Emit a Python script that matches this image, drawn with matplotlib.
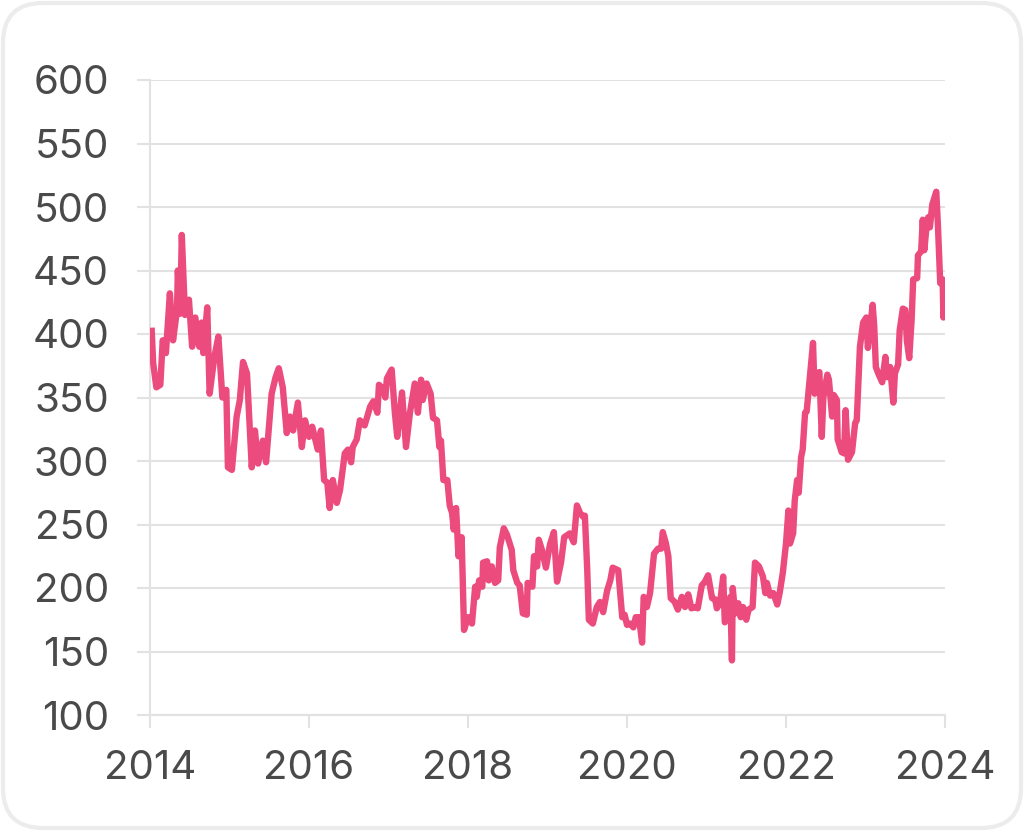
import numpy as np
import matplotlib
matplotlib.use("Agg")
import matplotlib.pyplot as plt
from matplotlib.patches import FancyBboxPatch

# dates as decimal years
years = [
    2014.02, 2014.04, 2014.08, 2014.13, 2014.16, 2014.20, 2014.25, 2014.29, 2014.34, 2014.35,
    2014.38, 2014.40, 2014.44, 2014.49, 2014.53, 2014.57, 2014.62, 2014.65, 2014.67, 2014.72,
    2014.75, 2014.81, 2014.86, 2014.91, 2014.96, 2014.98, 2015.03, 2015.09, 2015.13, 2015.17,
    2015.22, 2015.28, 2015.32, 2015.36, 2015.42, 2015.46, 2015.53, 2015.58, 2015.62, 2015.67,
    2015.72, 2015.76, 2015.80, 2015.86, 2015.91, 2015.95, 2016.00, 2016.04, 2016.09, 2016.11,
    2016.15, 2016.19, 2016.23, 2016.26, 2016.30, 2016.35, 2016.39, 2016.45, 2016.49, 2016.53,
    2016.55, 2016.60, 2016.64, 2016.70, 2016.77, 2016.81, 2016.86, 2016.88, 2016.93, 2016.96,
    2016.98, 2017.04, 2017.08, 2017.11, 2017.17, 2017.22, 2017.27, 2017.33, 2017.37, 2017.41,
    2017.43, 2017.48, 2017.53, 2017.56, 2017.61, 2017.64, 2017.66, 2017.69, 2017.74, 2017.77,
    2017.80, 2017.82, 2017.85, 2017.88, 2017.92, 2017.95, 2018.00, 2018.05, 2018.09, 2018.11,
    2018.14, 2018.18, 2018.19, 2018.24, 2018.26, 2018.30, 2018.34, 2018.38, 2018.40, 2018.45,
    2018.49, 2018.55, 2018.57, 2018.62, 2018.65, 2018.69, 2018.74, 2018.75, 2018.81, 2018.83,
    2018.87, 2018.89, 2018.93, 2018.98, 2019.03, 2019.08, 2019.12, 2019.17, 2019.21, 2019.28,
    2019.33, 2019.37, 2019.41, 2019.45, 2019.47, 2019.50, 2019.52, 2019.57, 2019.62, 2019.66,
    2019.70, 2019.75, 2019.79, 2019.82, 2019.89, 2019.94, 2019.97, 2020.00, 2020.04, 2020.08,
    2020.11, 2020.15, 2020.19, 2020.21, 2020.25, 2020.29, 2020.34, 2020.39, 2020.43, 2020.45,
    2020.49, 2020.52, 2020.55, 2020.60, 2020.64, 2020.69, 2020.73, 2020.77, 2020.81, 2020.86,
    2020.89, 2020.94, 2020.98, 2021.02, 2021.07, 2021.11, 2021.13, 2021.17, 2021.21, 2021.23,
    2021.27, 2021.30, 2021.32, 2021.33, 2021.36, 2021.40, 2021.43, 2021.46, 2021.50, 2021.53,
    2021.58, 2021.61, 2021.66, 2021.71, 2021.74, 2021.76, 2021.80, 2021.84, 2021.89, 2021.92,
    2021.96, 2022.00, 2022.03, 2022.05, 2022.09, 2022.11, 2022.14, 2022.16, 2022.19, 2022.21,
    2022.24, 2022.26, 2022.30, 2022.34, 2022.36, 2022.39, 2022.42, 2022.45, 2022.47, 2022.52,
    2022.54, 2022.58, 2022.60, 2022.64, 2022.65, 2022.70, 2022.73, 2022.75, 2022.78, 2022.83,
    2022.87, 2022.89, 2022.93, 2022.97, 2023.01, 2023.03, 2023.06, 2023.09, 2023.11, 2023.13,
    2023.16, 2023.21, 2023.25, 2023.27, 2023.31, 2023.35, 2023.37, 2023.41, 2023.43, 2023.47,
    2023.50, 2023.52, 2023.55, 2023.58, 2023.60, 2023.65, 2023.66, 2023.70, 2023.72, 2023.74,
    2023.77, 2023.79, 2023.81, 2023.84, 2023.86, 2023.89, 2023.91, 2023.94, 2023.97, 2023.98,
    2024.00,
]
values = [
    405, 377, 358, 360, 395, 385, 432, 395, 419, 450,
    416, 478, 415, 427, 390, 413, 390, 409, 385, 421,
    353, 382, 398, 350, 356, 295, 293, 335, 348, 378,
    369, 295, 324, 298, 316, 299, 353, 366, 373, 358,
    322, 335, 324, 346, 311, 332, 319, 327, 314, 309,
    324, 285, 283, 263, 285, 267, 277, 306, 309, 299,
    311, 317, 332, 328, 343, 347, 338, 360, 357, 350,
    365, 372, 338, 319, 354, 311, 338, 361, 338, 364,
    348, 361, 353, 334, 332, 311, 316, 285, 285, 265,
    259, 246, 263, 225, 240, 167, 177, 172, 201, 193,
    206, 201, 220, 221, 206, 217, 204, 206, 232, 247,
    242, 230, 214, 204, 202, 180, 179, 204, 201, 225,
    217, 238, 230, 216, 234, 244, 205, 220, 240, 243,
    236, 265, 259, 256, 257, 214, 175, 172, 185, 189,
    181, 198, 206, 216, 214, 177, 179, 171, 172, 169,
    177, 177, 157, 193, 185, 196, 227, 231, 231, 244,
    235, 225, 192, 189, 183, 193, 185, 195, 184, 185,
    184, 202, 205, 210, 192, 191, 184, 188, 209, 173,
    179, 193, 143, 200, 180, 188, 177, 185, 175, 183,
    185, 220, 217, 209, 196, 204, 194, 196, 187, 196,
    212, 235, 261, 235, 243, 269, 285, 275, 303, 309,
    338, 339, 366, 393, 353, 369, 370, 319, 350, 368,
    364, 335, 352, 348, 317, 307, 306, 340, 301, 307,
    330, 332, 390, 409, 413, 389, 406, 423, 406, 374,
    369, 362, 382, 366, 374, 346, 369, 376, 403, 420,
    419, 395, 381, 411, 443, 444, 462, 465, 490, 466,
    486, 492, 484, 502, 506, 512, 487, 440, 443, 413,
    444,
]

x_ticks = [2014, 2016, 2018, 2020, 2022, 2024]
y_ticks = [100, 150, 200, 250, 300, 350, 400, 450, 500, 550, 600]

LINE = "#EC4C7D"
GRID = "#e2e2e2"
TEXT = "#4a4a4a"

plt.rcParams["font.family"] = ["Inter", "DejaVu Sans"]

fig = plt.figure(figsize=(10.24, 8.31), dpi=100)
ax = fig.add_axes([150 / 1024, 1 - 715 / 831, 795 / 1024, 635 / 831])

ax.plot(years, values, color=LINE, lw=4.6, solid_joinstyle="round",
        solid_capstyle="butt", zorder=3)

ax.set_xlim(2014, 2024)
ax.set_ylim(100, 600)
ax.set_xticks(x_ticks)
ax.set_yticks(y_ticks)
ax.set_xticklabels([str(t) for t in x_ticks])
ax.grid(axis="y", color=GRID, lw=1.5)
ax.set_axisbelow(True)

for s in ["top", "right"]:
    ax.spines[s].set_visible(False)
for s in ["left", "bottom"]:
    ax.spines[s].set_color(GRID)
    ax.spines[s].set_linewidth(1.5)

ax.tick_params(axis="y", length=9.5, width=1.5, color=GRID, pad=20,
               labelsize=29, labelcolor=TEXT)
ax.tick_params(axis="x", length=9.5, width=1.5, color=GRID, pad=16,
               labelsize=29, labelcolor=TEXT)

# rounded card border
card = FancyBboxPatch((3, 3), 1018, 825,
                      boxstyle="round,pad=0,rounding_size=40",
                      transform=None, facecolor="none",
                      edgecolor="#ececec", lw=3)
fig.patches.append(card)

fig.savefig("out.png", dpi=100)
